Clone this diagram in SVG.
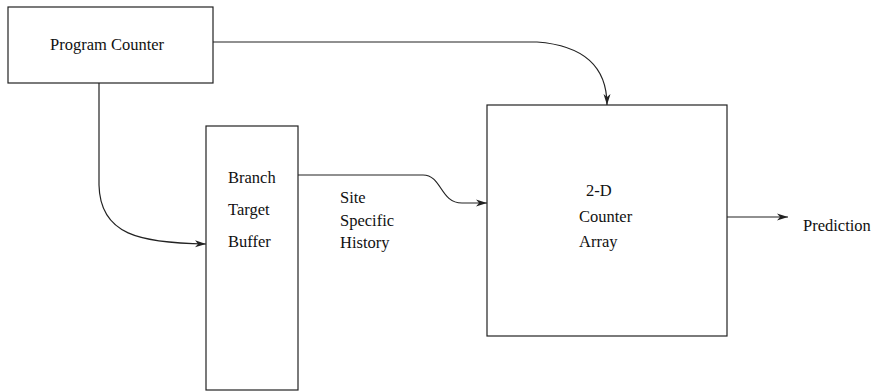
<svg xmlns="http://www.w3.org/2000/svg" width="874" height="391" viewBox="0 0 874 391">
<style>
.box{fill:#fff;stroke:#222;stroke-width:1.2}
.lbl{font-family:"Liberation Serif","Times New Roman",serif;font-size:16.5px;fill:#111}
.con{fill:none;stroke:#222;stroke-width:1.2}
</style>
<defs>
<marker id="arr" viewBox="0 0 12 8" refX="11" refY="4" markerWidth="12" markerHeight="8" markerUnits="userSpaceOnUse" orient="auto">
<path d="M0,0.5 L11,4 L0,7.5 L3,4 z" fill="#222"/>
</marker>
</defs>
<rect width="874" height="391" fill="#fff"/>
<g id="program-counter">
<rect class="box" x="8" y="7" width="205" height="76"/>
<text class="lbl" x="50" y="50">Program Counter</text>
</g>
<g id="branch-target-buffer">
<rect class="box" x="206" y="126" width="92" height="264"/>
<text class="lbl" x="228" y="183">Branch</text>
<text class="lbl" x="228" y="215">Target</text>
<text class="lbl" x="228" y="247">Buffer</text>
</g>
<g id="counter-array">
<rect class="box" x="487" y="105" width="240" height="231"/>
<text class="lbl" x="586" y="196">2-D</text>
<text class="lbl" x="579" y="222">Counter</text>
<text class="lbl" x="579" y="247">Array</text>
</g>
<g id="site-specific-history">
<text class="lbl" x="340" y="203">Site</text>
<text class="lbl" x="340" y="226">Specific</text>
<text class="lbl" x="340" y="248">History</text>
</g>
<g id="prediction">
<text class="lbl" x="803" y="231">Prediction</text>
</g>
<g id="connectors">
<path class="con" d="M213,42 H537 C590,46 607,72 607,105" marker-end="url(#arr)"/>
<path class="con" d="M99,83 V185 C100,235 140,243 206,244" marker-end="url(#arr)"/>
<path class="con" d="M298,175 H423 C442,175 440,203 462,203 H487" marker-end="url(#arr)"/>
<path class="con" d="M727,217 H788" marker-end="url(#arr)"/>
</g>
</svg>
